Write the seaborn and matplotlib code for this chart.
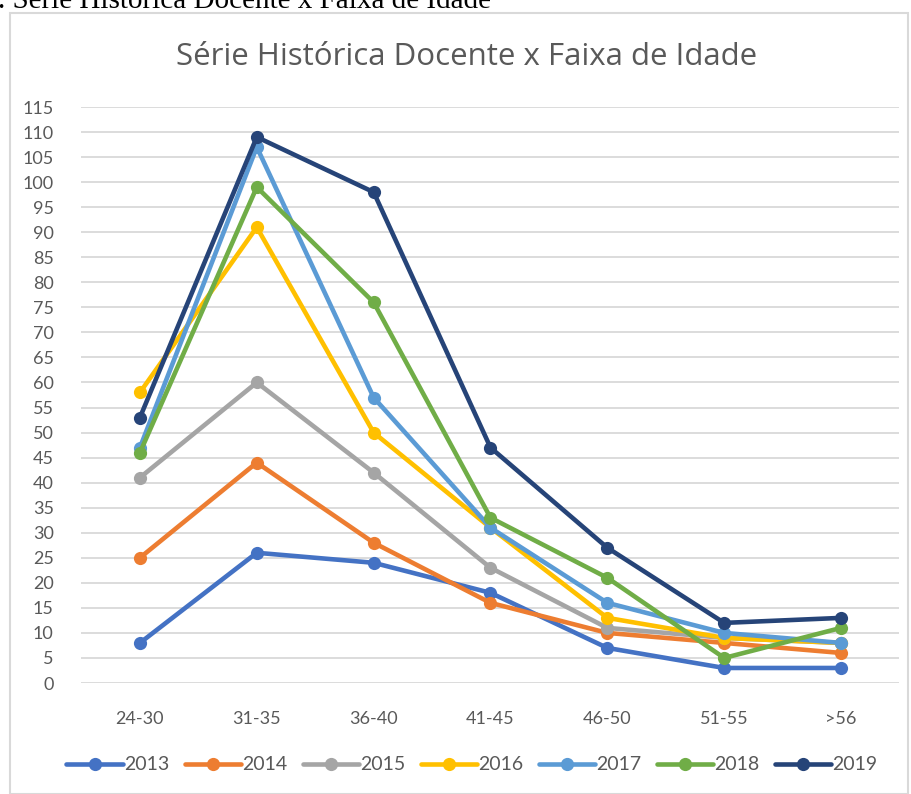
import matplotlib
matplotlib.use("Agg")
import matplotlib.pyplot as plt
import pandas as pd
import seaborn as sns
from matplotlib.patches import Rectangle

faixas = ["24-30", "31-35", "36-40", "41-45", "46-50", "51-55", ">56"]
anos = ["2013", "2014", "2015", "2016", "2017", "2018", "2019"]
v2013 = [8, 26, 24, 18, 7, 3, 3]
v2014 = [25, 44, 28, 16, 10, 8, 6]
v2015 = [41, 60, 42, 23, 11, 9, 8]
v2016 = [58, 91, 50, 31, 13, 9, 8]
v2017 = [47, 107, 57, 31, 16, 10, 8]
v2018 = [46, 99, 76, 33, 21, 5, 11]
v2019 = [53, 109, 98, 47, 27, 12, 13]
cores = ["#4472C4", "#ED7D31", "#A5A5A5", "#FFC000", "#5B9BD5", "#70AD47", "#264478"]

series = [v2013, v2014, v2015, v2016, v2017, v2018, v2019]
rows = []
for ano, vals in zip(anos, series):
    for f, v in zip(faixas, vals):
        rows.append({"faixa": f, "ano": ano, "docentes": v})
df = pd.DataFrame(rows)

sns.set_theme(style="white")
plt.rcParams["font.family"] = ["Lato", "DejaVu Sans"]

fig = plt.figure(figsize=(9.12, 7.94), dpi=100)
ax = fig.add_axes([81.5 / 912, 1 - 683 / 794, 818 / 912, 576 / 794])

sns.lineplot(
    data=df, x="faixa", y="docentes", hue="ano", palette=cores,
    marker="o", markersize=9.5, markeredgewidth=0, linewidth=3.3,
    sort=False, ax=ax,
)

ax.set_xlim(-0.5, 6.5)
ax.set_ylim(0, 115)
ax.set_yticks(range(0, 116, 5))
ax.yaxis.grid(True, color="#D9D9D9", linewidth=1.3)
ax.xaxis.grid(False)
for s in ax.spines.values():
    s.set_visible(False)
ax.tick_params(axis="both", labelsize=13, colors="#595959", length=0)
ax.tick_params(axis="y", pad=20)
ax.tick_params(axis="x", pad=20)
ax.set_xlabel("")
ax.set_ylabel("")

handles, labels = ax.get_legend_handles_labels()
ax.legend(
    handles, labels, loc="center", bbox_to_anchor=(472 / 912, (794 - 765) / 794),
    bbox_transform=fig.transFigure, ncol=7, frameon=False, fontsize=14,
    handlelength=2.9, handletextpad=0.05, columnspacing=0.8, labelcolor="#595959",
)

fig.text(467 / 912, 1 - 57 / 794, "Série Histórica Docente x Faixa de Idade",
         ha="center", va="center", fontsize=22.5, color="#595959",
         family=["Open Sans", "DejaVu Sans"])

fig.patches.append(Rectangle((10 / 912, 0), 898 / 912, 1 - 13 / 794,
                             transform=fig.transFigure, fill=False,
                             edgecolor="#D9D9D9", linewidth=1.5))
fig.text(-2 / 912, 1 - 8 / 794, ". Série Histórica Docente x Faixa de Idade",
         ha="left", va="baseline", fontsize=21, family="Liberation Serif",
         color="black")

fig.savefig("out.png", dpi=100)
